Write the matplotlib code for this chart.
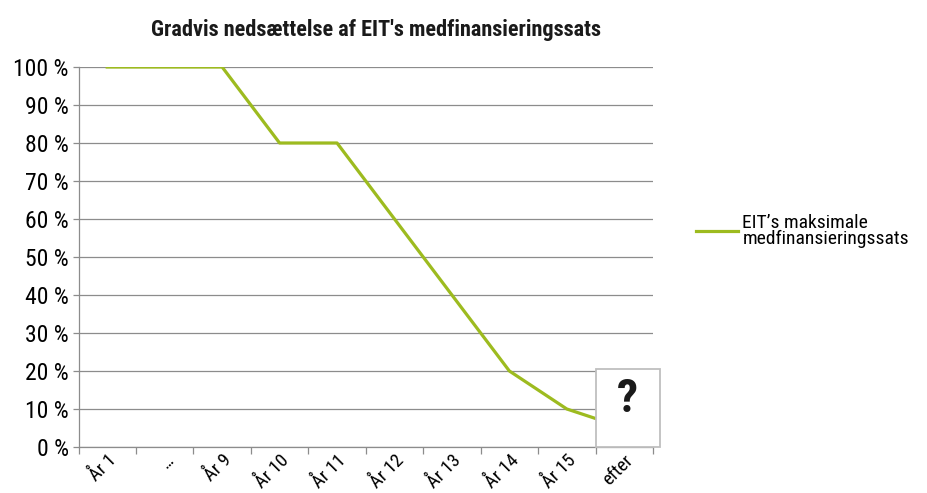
import matplotlib
matplotlib.use("Agg")
import matplotlib.pyplot as plt
from matplotlib.patches import Rectangle
from matplotlib import font_manager
import numpy as np

categories = ["År 1", "…", "År 9", "År 10", "År 11", "År 12", "År 13", "År 14", "År 15", "efter"]
rates = [100, 100, 100, 80, 80, 60, 40, 20, 10, 5]
y_ticks = [0, 10, 20, 30, 40, 50, 60, 70, 80, 90, 100]
y_labels = [f"{v} %" for v in y_ticks]
title = "Gradvis nedsættelse af EIT's medfinansieringssats"
series_name = "EIT’s maksimale\nmedfinansieringssats"

# pick a condensed font if one is installed
entries = font_manager.fontManager.ttflist
names = {f.name for f in entries}
family, stretch = 'Liberation Sans', 'normal'
for cand in ['Liberation Sans Narrow', 'Roboto Condensed', 'Open Sans Condensed',
             'Noto Sans Condensed', 'DejaVu Sans Condensed']:
    if cand in names:
        family = cand
        break
else:
    for fam in ['Noto Sans', 'DejaVu Sans', 'Open Sans', 'Roboto']:
        if any(f.name == fam and str(f.stretch) in ('condensed', 'semi-condensed', '75', '87')
               for f in entries):
            family, stretch = fam, 'condensed'
            break
plt.rcParams['font.family'] = [family, 'DejaVu Sans']
plt.rcParams['font.stretch'] = stretch

W, H = 927, 493
fig = plt.figure(figsize=(W / 100, H / 100), dpi=100)
ax = fig.add_axes([78.5 / W, 1 - 447 / H, (653 - 78.5) / W, (447 - 67) / H])

line_color = "#9DBB1F"
grid_color = "#8C8C8C"

x = np.arange(len(categories))
ax.plot(x, rates, color=line_color, linewidth=2.3, solid_joinstyle='round', zorder=3,
        label=series_name)

ax.set_xlim(-0.5, len(categories) - 0.5)
ax.set_ylim(0, 100)
ax.set_yticks(y_ticks)
ax.set_yticklabels(y_labels, fontsize=17)
ax.yaxis.grid(True, color=grid_color, linewidth=0.9)
ax.set_axisbelow(True)

ax.set_xticks(x)
ax.set_xticklabels(categories, fontsize=13.5, rotation=45, ha='right', va='top',
                   rotation_mode='anchor')
ax.set_xticks(np.arange(-0.5, len(categories)), minor=True)
ax.tick_params(axis='x', which='major', length=0, pad=3)
ax.tick_params(axis='x', which='minor', length=5, color=grid_color, width=0.9)
ax.tick_params(axis='y', length=4, color=grid_color, width=0.9, pad=3)

for s in ['top', 'right']:
    ax.spines[s].set_visible(False)
for s in ['left', 'bottom']:
    ax.spines[s].set_color(grid_color)
    ax.spines[s].set_linewidth(0.9)

# question-mark box over the last category
box = Rectangle((8.5, 0), 1.13, 20.6, facecolor='white', edgecolor='#BFBFBF',
                linewidth=1.3, zorder=4, clip_on=False)
ax.add_patch(box)
ax.text(9.05, 12.5, "?", fontsize=34, fontweight='bold', ha='center', va='center',
        color='#1A1A1A', zorder=5)

fig.text(376 / W, 1 - 30 / H, title, fontsize=16, fontweight='bold',
         ha='center', va='center', color='#1A1A1A')

leg = fig.legend(loc='center left', bbox_to_anchor=(688 / W, 1 - 231 / H),
                 frameon=False, fontsize=14, handlelength=2.15, handletextpad=0.25,
                 borderaxespad=0, labelspacing=0.2)
for t in leg.get_texts():
    t.set_linespacing(0.9)

fig.savefig("out.png", dpi=100)
